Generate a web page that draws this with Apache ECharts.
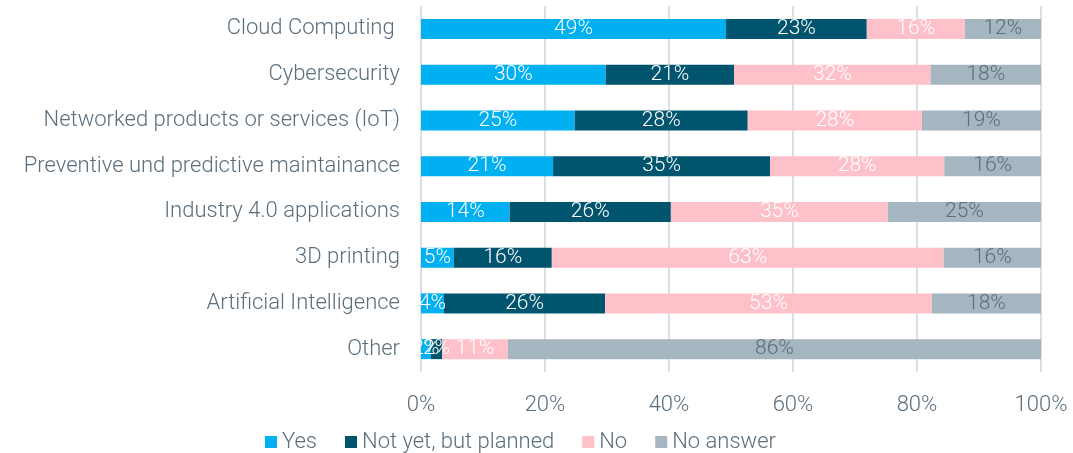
<!DOCTYPE html>
<html>
<head>
<meta charset="utf-8">
<script src="https://cdn.jsdelivr.net/npm/echarts@6/dist/echarts.min.js"></script>
<style>
  html, body { margin: 0; padding: 0; background: #fff; }
  #chart { width: 1073px; height: 453px; }
</style>
</head>
<body>
<div id="chart"></div>
<script>
// categories, top to bottom
var categories = [
  'Cloud Computing ',
  'Cybersecurity',
  'Networked products or services (IoT)',
  'Preventive und predictive maintainance',
  'Industry 4.0 applications',
  '3D printing',
  'Artificial Intelligence',
  'Other'
];
// shares in percent, same order as categories
var yes       = [49.2, 29.8, 24.8, 21.3, 14.3,  5.3,  3.7,  1.6];
var planned   = [22.7, 20.7, 27.9, 35.0, 26.0, 15.8, 26.0,  1.8];
var no        = [15.8, 31.7, 28.1, 28.1, 35.0, 63.2, 52.7, 10.6];
var noAnswer  = [12.3, 17.8, 19.2, 15.6, 24.7, 15.7, 17.6, 86.0];
var xTicks = [0, 20, 40, 60, 80, 100];

var font = 'Roboto';
var textColor = '#5b6e7c';

function bar(name, data, color, labelColor) {
  return {
    name: name,
    type: 'bar',
    stack: 'total',
    barWidth: 20,
    data: data,
    itemStyle: { color: color },
    label: {
      show: true,
      position: 'inside',
      color: labelColor,
      fontFamily: font,
      fontWeight: 300,
      fontSize: 21,
      formatter: function (p) { return Math.round(p.value) + '%'; }
    }
  };
}

var myChart = echarts.init(document.getElementById('chart'));
var option = {
  animation: false,
  grid: { left: 421, right: 32, top: 6, bottom: 81 },
  legend: {
    left: 260,
    top: 426,
    itemWidth: 12,
    itemHeight: 12,
    itemGap: 28,
    icon: 'rect',
    textStyle: { color: textColor, fontFamily: font, fontWeight: 300, fontSize: 22 },
    data: ['Yes', 'Not yet, but planned', 'No', 'No answer']
  },
  xAxis: {
    type: 'value',
    min: xTicks[0],
    max: xTicks[xTicks.length - 1],
    interval: 20,
    axisLine: { show: false },
    axisTick: { show: false },
    splitLine: { show: true, lineStyle: { color: '#d9dfe5', width: 2 } },
    axisLabel: {
      color: textColor, fontFamily: font, fontWeight: 300, fontSize: 22, margin: 22,
      formatter: '{value}%'
    }
  },
  yAxis: {
    type: 'category',
    inverse: true,
    data: categories,
    axisLine: { show: false },
    axisTick: { show: false },
    axisLabel: { color: textColor, fontFamily: font, fontWeight: 300, fontSize: 22, margin: 21 }
  },
  series: [
    bar('Yes', yes, '#00b0f0', '#ffffff'),
    bar('Not yet, but planned', planned, '#00546e', '#ffffff'),
    bar('No', no, '#ffc1c9', '#ffffff'),
    bar('No answer', noAnswer, '#a6b6c1', '#5b6e7c')
  ]
};
myChart.setOption(option);
</script>
</body>
</html>
